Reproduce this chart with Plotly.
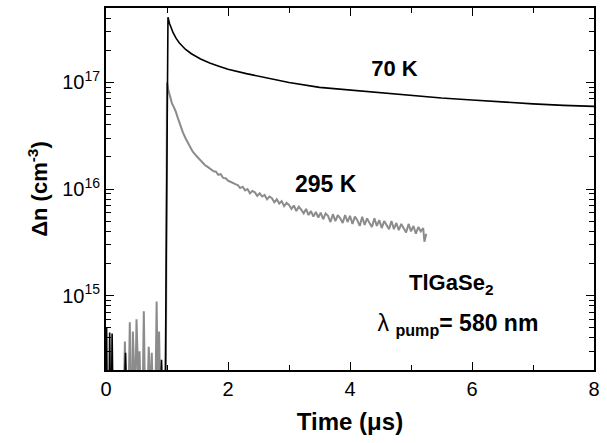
import math
import plotly.graph_objects as go

# ---------------- data ----------------
# 70 K trace (black)
t_70 = [0.00, 0.01, 0.02, 0.05, 0.06, 0.075, 0.09, 0.10, 0.115, 0.30, 0.32, 0.34,
        0.89, 0.91, 0.93, 0.97,
        1.016, 1.04, 1.07, 1.10, 1.15, 1.20, 1.30, 1.40, 1.55, 1.70, 1.85, 2.00, 2.30,
        2.60, 3.00, 3.50, 4.00, 4.50, 5.00, 5.50, 6.00, 6.50, 7.00, 7.50, 8.00]
dn_70 = [1e14, 5.0e14, 1e14, 1e14, 4.5e14, 1e14, 1e14, 4.4e14, 1e14, 1e14, 2.9e14, 1e14,
         1e14, 2.5e14, 1e14, 1e14,
         4.1e17, 3.6e17, 3.24e17, 2.93e17, 2.59e17, 2.36e17, 2.05e17, 1.86e17, 1.66e17,
         1.52e17, 1.42e17, 1.33e17, 1.21e17, 1.12e17, 1.0e17, 9.0e16, 8.5e16, 8.0e16,
         7.55e16, 7.15e16, 6.85e16, 6.55e16, 6.3e16, 6.1e16, 5.96e16]

# 295 K trace (gray), before the pulse
t_295_pre = [0.00, 0.29, 0.31, 0.33, 0.37, 0.39, 0.41, 0.43, 0.44, 0.46, 0.48, 0.50, 0.52,
             0.54, 0.55, 0.57, 0.60, 0.62, 0.64, 0.68, 0.70, 0.72, 0.74, 0.75, 0.77,
             0.81, 0.83, 0.85, 0.86, 0.87, 0.89, 0.98]
dn_295_pre = [1e14, 1e14, 3.7e14, 1e14, 1e14, 5.6e14, 1e14, 1e14, 4.6e14, 1e14, 1e14, 6.0e14, 1e14,
              1e14, 3.0e14, 1e14, 1e14, 7.1e14, 1e14, 1e14, 3.3e14, 1e14, 1e14, 2.9e14, 1e14,
              1e14, 8.8e14, 1e14, 1e14, 4.6e14, 1e14, 1e14]

# 295 K trace (gray), after the pulse
t_295 = [1.00, 1.02, 1.05, 1.08, 1.11, 1.14, 1.18, 1.22, 1.26, 1.31, 1.36, 1.42, 1.48,
         1.53, 1.58, 1.62, 1.66, 1.70, 1.74, 1.77,
         1.80, 1.84, 1.88, 1.92, 1.96, 2.00, 2.04, 2.08, 2.12, 2.16, 2.20, 2.24, 2.28,
         2.32, 2.36, 2.40, 2.44, 2.48, 2.52, 2.56, 2.60, 2.64, 2.68, 2.72, 2.76, 2.80,
         2.84, 2.88, 2.92, 2.96, 3.00, 3.04, 3.08, 3.12, 3.16, 3.20, 3.24, 3.28, 3.32,
         3.36, 3.40, 3.44, 3.48, 3.52, 3.56, 3.60, 3.64, 3.68, 3.72, 3.76, 3.80, 3.84,
         3.88, 3.92, 3.96, 4.00, 4.04, 4.08, 4.12, 4.16, 4.20, 4.24, 4.28, 4.32, 4.36,
         4.40, 4.44, 4.48, 4.52, 4.56, 4.60, 4.64, 4.68, 4.72, 4.76, 4.80, 4.84, 4.88,
         4.92, 4.96, 5.00, 5.04, 5.08, 5.12, 5.16, 5.20, 5.22, 5.25]
dn_295 = [1.0e17, 8.6e16, 7.3e16, 6.4e16, 5.9e16, 5.4e16, 4.6e16, 3.9e16, 3.4e16, 2.95e16,
          2.6e16, 2.25e16, 2.05e16, 1.9e16, 1.8e16, 1.68e16, 1.62e16, 1.55e16, 1.5e16, 1.46e16,
          1.46e16, 1.36e16, 1.38e16, 1.27e16, 1.26e16, 1.20e16, 1.17e16, 1.13e16, 1.11e16,
          1.09e16, 1.02e16, 1.05e16, 9.7e15, 1.0e16, 9.1e15, 9.6e15, 9.3e15, 8.6e15, 9.1e15,
          8.5e15, 8.8e15, 8.0e15, 8.5e15, 8.2e15, 7.5e15, 8.0e15, 7.3e15, 7.7e15, 6.9e15,
          7.4e15, 7.1e15, 6.5e15, 7.0e15, 6.2e15, 6.8e15, 6.4e15, 5.9e15, 6.5e15, 5.7e15,
          6.2e15, 5.5e15, 6.1e15, 5.4e15, 6.0e15, 5.2e15, 5.9e15, 5.6e15, 4.9e15, 5.8e15,
          5.0e15, 5.7e15, 5.3e15, 4.8e15, 5.7e15, 4.9e15, 5.6e15, 4.7e15, 5.5e15, 5.1e15,
          4.5e15, 5.5e15, 4.6e15, 5.3e15, 4.8e15, 4.4e15, 5.3e15, 4.5e15, 5.1e15, 4.3e15,
          5.0e15, 4.6e15, 4.2e15, 5.0e15, 4.2e15, 4.8e15, 4.1e15, 4.7e15, 4.3e15, 3.9e15,
          4.7e15, 4.0e15, 4.5e15, 3.8e15, 4.4e15, 4.0e15, 4.3e15, 3.2e15, 3.8e15]

x_ticks = [0, 2, 4, 6, 8]
x_ticklabels = ["0", "2", "4", "6", "8"]
y_ticks = [1e15, 1e16, 1e17]
y_ticklabels = ["10<sup>15</sup>", "10<sup>16</sup>", "10<sup>17</sup>"]
y_minor = [2e14, 3e14, 4e14, 5e14, 6e14, 7e14, 8e14, 9e14,
           2e15, 3e15, 4e15, 5e15, 6e15, 7e15, 8e15, 9e15,
           2e16, 3e16, 4e16, 5e16, 6e16, 7e16, 8e16, 9e16,
           2e17, 3e17, 4e17, 5e17]
y_range_vals = [2e14, 5e17]

# in-plot labels: text and anchor (data coordinates)
label_text = ["<b>70 K</b>", "<b>295 K</b>", "<b>TlGaSe<sub>2</sub></b>",
              "λ <b><sub>pump</sub>= 580 nm</b>"]
label_t = [4.73, 3.60, 5.66, 5.77]
label_dn = [1.30e17, 1.07e16, 1.26e15, 5.25e14]
label_size = [22, 23, 22, 23]

FONT = "Liberation Sans"
GRAY = "#8c8c8c"

fig = go.Figure()
fig.add_trace(go.Scatter(x=t_295_pre + t_295, y=dn_295_pre + dn_295, mode="lines",
                         line=dict(color=GRAY, width=2), hoverinfo="skip"))
fig.add_trace(go.Scatter(x=t_70, y=dn_70, mode="lines",
                         line=dict(color="black", width=1.6), hoverinfo="skip"))
fig.add_trace(go.Scatter(x=label_t, y=label_dn, mode="text", text=label_text,
                         textposition="middle center",
                         textfont=dict(family=FONT, size=label_size, color="black"),
                         hoverinfo="skip"))

fig.update_layout(
    template="none",
    width=607, height=443,
    margin=dict(l=106, r=13, t=8, b=73, autoexpand=False),
    paper_bgcolor="white", plot_bgcolor="white",
    font=dict(family=FONT, color="black", size=20),
    showlegend=False,
)
fig.update_xaxes(
    automargin=False,
    range=[0, 8], tickmode="array", tickvals=x_ticks, ticktext=x_ticklabels,
    ticks="inside", ticklen=8, tickwidth=1.3, tickcolor="black",
    minor=dict(dtick=1, tick0=0, ticks="inside", ticklen=5, tickwidth=1.3, tickcolor="black",
               showgrid=False),
    showline=True, linecolor="black", linewidth=2, mirror="allticks",
    showgrid=False, zeroline=False, tickfont=dict(family=FONT, size=20, color="black"),
    title=dict(text="<b>Time (μs)</b>", font=dict(family=FONT, size=24, color="black"),
               standoff=14),
)
fig.update_yaxes(
    automargin=False,
    type="log", range=[math.log10(v) for v in y_range_vals],
    tickmode="array", tickvals=y_ticks, ticktext=y_ticklabels,
    ticks="inside", ticklen=8, tickwidth=1.3, tickcolor="black",
    minor=dict(tickmode="array", tickvals=y_minor, ticks="inside", ticklen=5, tickwidth=1.3,
               tickcolor="black", showgrid=False),
    showline=True, linecolor="black", linewidth=2, mirror="allticks",
    showgrid=False, zeroline=False, tickfont=dict(family=FONT, size=20, color="black"),
    title=dict(text="<b>Δn (cm<sup>-3</sup>)</b>", font=dict(family=FONT, size=22, color="black"),
               standoff=8),
)

fig.write_html("out.html")
